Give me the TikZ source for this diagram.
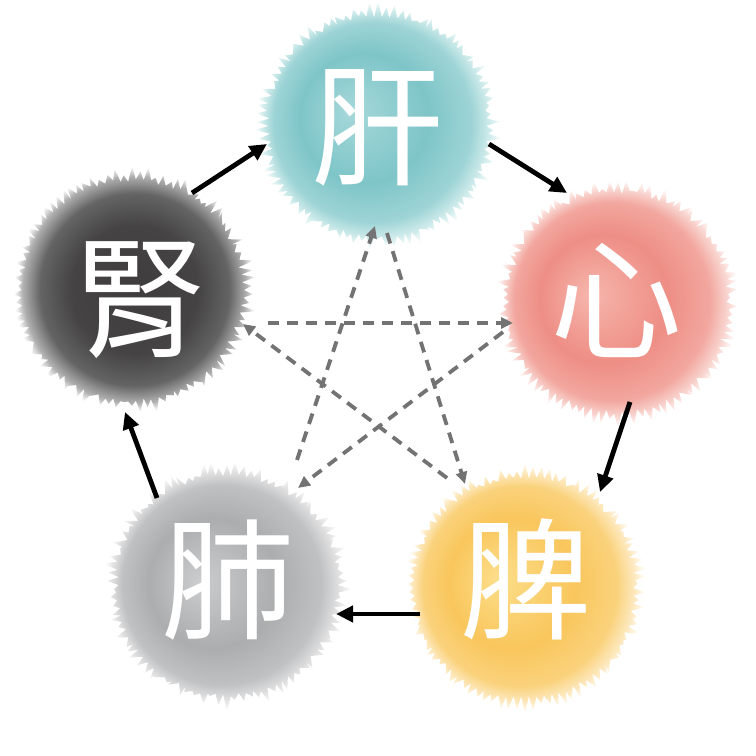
\documentclass[tikz,border=0pt]{standalone}
\usepackage{fontspec}
\newfontfamily\cjk{Noto Sans CJK TC}
\usetikzlibrary{arrows.meta}
\definecolor{arrowgray}{HTML}{737373}
% wood (teal)
\definecolor{ghl}{HTML}{A6D8DA}\definecolor{gmain}{HTML}{7EC5C8}\definecolor{gedge}{HTML}{9ED4D6}\definecolor{gfade}{HTML}{D2ECEC}
% fire (red)
\definecolor{xhl}{HTML}{F6B6AC}\definecolor{xmain}{HTML}{EE8E85}\definecolor{xedge}{HTML}{F2A79F}\definecolor{xfade}{HTML}{F9D6D1}
% earth (yellow)
\definecolor{phl}{HTML}{FCDE8A}\definecolor{pmain}{HTML}{F9C65C}\definecolor{pedge}{HTML}{FAD27C}\definecolor{pfade}{HTML}{FDE9C0}
% metal (grey)
\definecolor{fhl}{HTML}{CBCCCD}\definecolor{fmain}{HTML}{ABADAE}\definecolor{fedge}{HTML}{C0C1C2}\definecolor{ffade}{HTML}{E3E3E4}
% water (dark)
\definecolor{shl}{HTML}{3E3C3D}\definecolor{smain}{HTML}{454344}\definecolor{sedge}{HTML}{646464}\definecolor{sfade}{HTML}{AFAFAF}
\pgfdeclareradialshading{gshade}{\pgfpoint{-6bp}{3bp}}{color(0bp)=(ghl); color(13bp)=(gmain); color(20bp)=(gedge); color(23bp)=(gfade); color(25bp)=(white)}
\pgfdeclareradialshading{xshade}{\pgfpoint{-6bp}{2bp}}{color(0bp)=(xhl); color(13bp)=(xmain); color(20bp)=(xedge); color(23bp)=(xfade); color(25bp)=(white)}
\pgfdeclareradialshading{pshade}{\pgfpoint{-6bp}{2bp}}{color(0bp)=(phl); color(13bp)=(pmain); color(20bp)=(pedge); color(23bp)=(pfade); color(25bp)=(white)}
\pgfdeclareradialshading{fshade}{\pgfpoint{-6bp}{1bp}}{color(0bp)=(fhl); color(13bp)=(fmain); color(20bp)=(fedge); color(23bp)=(ffade); color(25bp)=(white)}
\pgfdeclareradialshading{sshade}{\pgfpoint{0bp}{0bp}}{color(0bp)=(shl); color(13bp)=(smain); color(19.5bp)=(sedge); color(23bp)=(sfade); color(25bp)=(white)}
\newcommand\fuzzball[3]{%
  \begin{scope}[shift={(#1)}]
    \pgfmathsetseed{#3}
    \shade[shading=#2] plot[domain=0:358, samples=180, variable=\t]
      (\t:{ifthenelse(mod(round(\t/2),2)==0, 108+4*rnd, 112+14*rnd)}) -- cycle;
  \end{scope}}
\begin{document}
\begin{tikzpicture}[x=1pt,y=1pt,
  glyph/.style={text=white, font=\cjk\fontsize{132}{132}\selectfont, inner sep=0pt},
  cycarrow/.style={line width=4.8pt, draw=black, -{Triangle[length=17pt,width=16pt]}},
  ctrlarrow/.style={line width=3.8pt, draw=arrowgray, dash pattern=on 11pt off 8pt,
    -{Triangle[length=12pt,width=11pt]}}]
\useasboundingbox (0,0) rectangle (756,756);
% fuzzy discs
\fuzzball{378,630}{gshade}{11}
\fuzzball{618,454}{xshade}{23}
\fuzzball{525,168}{pshade}{37}
\fuzzball{227,171}{fshade}{41}
\fuzzball{132,466}{sshade}{53}
% organ labels
\node[glyph] (G) at (377,628) {肝};
\node[glyph] (X) at (616,456) {心};
\node[glyph] (P) at (526,177) {脾};
\node[glyph] (F) at (228,176) {肺};
\node[glyph] (S) at (140,456) {腎};
% generating cycle
\draw[cycarrow] ([shift={(52,107)}]S.center) -- ([shift={(-110,-16)}]G.center);
\draw[cycarrow] ([shift={(112,-16)}]G.center) -- ([shift={(-49,107)}]X.center);
\draw[cycarrow] ([shift={(14,-102)}]X.center) -- ([shift={(74,87)}]P.center);
\draw[cycarrow] ([shift={(-106,-35)}]P.center) -- ([shift={(108,-34)}]F.center);
\draw[cycarrow] ([shift={(-71,82)}]F.center) -- ([shift={(-15,-112)}]S.center);
% controlling cycle
\draw[ctrlarrow] ([shift={(10,-105)}]G.center) -- ([shift={(-61,95)}]P.center);
\draw[ctrlarrow] ([shift={(-79,101)}]P.center) -- ([shift={(103,-24)}]S.center);
\draw[ctrlarrow] ([shift={(128,-23)}]S.center) -- ([shift={(-103,-23)}]X.center);
\draw[ctrlarrow] ([shift={(-113,-32)}]X.center) -- ([shift={(70,92)}]F.center);
\draw[ctrlarrow] ([shift={(69,120)}]F.center) -- ([shift={(-2,-98)}]G.center);
\end{tikzpicture}
\end{document}
